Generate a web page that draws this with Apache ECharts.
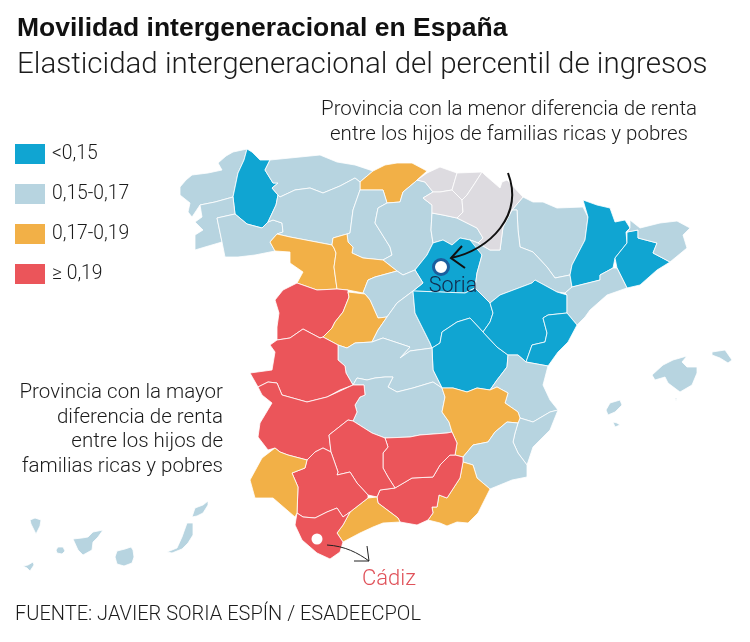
<!DOCTYPE html>
<html>
<head>
    <meta charset="utf-8">
    <title>Movilidad intergeneracional en España</title>
    <script src="https://cdn.jsdelivr.net/npm/echarts@6/dist/echarts.min.js"></script>
    <style>
        *{margin:0;padding:0}
        body{background:#fff}
        #main{width:750px;height:642px}
    </style>
</head>
<body>
    <div id="main"></div>
    <script type="text/javascript">
        // Clases de la leyenda (de arriba abajo)
        var classLabels = ['<0,15', '0,15-0,17', '0,17-0,19', '≥ 0,19'];
        var classColors = ['#10a5d2', '#b7d4e0', '#f2b047', '#eb555a'];

        // Provincia y su clase (indice en classLabels)
        var provinces = ['A Coruña', 'Lugo', 'Pontevedra', 'Ourense', 'Asturias', 'Cantabria', 'León', 'Palencia', 'Burgos', 'La Rioja',
            'Zamora', 'Valladolid', 'Soria', 'Segovia', 'Salamanca', 'Ávila', 'Madrid', 'Guadalajara', 'Cuenca', 'Toledo',
            'Ciudad Real', 'Cáceres', 'Badajoz', 'Huesca', 'Zaragoza', 'Teruel', 'Lleida', 'Barcelona', 'Girona', 'Tarragona',
            'Castellón', 'Valencia', 'Alicante', 'Albacete', 'Murcia', 'Almería', 'Granada', 'Jaén', 'Córdoba', 'Málaga',
            'Sevilla', 'Cádiz', 'Huelva', 'Baleares', 'Las Palmas', 'Santa Cruz de Tenerife'];
        var provinceClass = [1, 0, 1, 1, 1, 2, 1, 1, 1, 1,
            2, 2, 0, 1, 3, 2, 1, 0, 0, 1,
            1, 3, 3, 1, 1, 0, 0, 0, 1, 1,
            0, 1, 1, 2, 1, 2, 3, 3, 3, 2,
            3, 3, 2, 1, 1, 1];

        // Contornos de las provincias, trazados en pixeles de la imagen.
        // Bizkaia, Gipuzkoa, Alava y Navarra no tienen dato: quedan en gris
        var shapes = {
            'A Coruña': [[[247,149],[233,152],[226,156],[218,163],[222,170],[208,173],[192,175],[186,180],[180,187],[180,195],[190,203],[188,212],[192,217],[200,205],[215,202],[233,197],[238,173],[244,160]]],
            'Lugo': [[[247,149],[252,152],[260,160],[270,160],[265,170],[273,183],[278,183],[272,188],[278,195],[276,205],[268,222],[262,228],[247,224],[235,214],[233,197],[238,173],[244,160]]],
            'Pontevedra': [[[200,205],[215,202],[233,197],[235,214],[217,218],[222,242],[205,247],[195,250],[195,235],[203,230],[195,222],[202,217]]],
            'Ourense': [[[217,218],[235,214],[247,224],[262,228],[268,222],[273,220],[282,223],[283,232],[277,234],[270,242],[275,251],[255,255],[238,257],[225,257],[222,242]]],
            'Asturias': [[[270,160],[300,157],[320,155],[337,162],[355,165],[373,171],[360,182],[355,178],[340,186],[323,193],[310,188],[295,190],[280,197],[278,195],[272,188],[278,183],[273,183],[265,170]]],
            'Cantabria': [[[373,171],[385,165],[397,163],[412,163],[427,171],[417,180],[415,182],[403,192],[400,202],[387,203],[383,190],[360,190],[360,182]]],
            'León': [[[280,197],[295,190],[310,188],[323,193],[340,186],[355,178],[360,182],[360,190],[353,210],[350,233],[347,234],[333,238],[332,245],[290,237],[277,234],[283,232],[282,223],[273,220],[268,222],[276,205],[278,195]]],
            'Palencia': [[[360,190],[383,190],[387,203],[378,208],[375,223],[390,247],[392,255],[383,260],[363,258],[352,253],[353,247],[348,242],[347,234],[350,233],[353,210]]],
            'Burgos': [[[387,203],[400,202],[403,192],[415,182],[417,180],[425,182],[433,192],[423,198],[432,205],[432,213],[431,230],[433,243],[427,255],[415,270],[403,275],[397,271],[383,260],[392,255],[390,247],[375,223],[378,208]]],
            'La Rioja': [[[432,213],[443,215],[457,218],[477,228],[483,238],[478,243],[470,240],[460,238],[452,245],[443,240],[433,243],[431,230]]],
            'Zamora': [[[277,234],[290,237],[332,245],[334,248],[336,253],[334,267],[337,289],[317,290],[297,283],[303,272],[290,263],[290,252],[275,251],[270,242]]],
            'Valladolid': [[[333,238],[347,234],[348,242],[353,247],[352,253],[363,258],[383,260],[397,271],[375,277],[368,280],[363,293],[348,290],[337,289],[334,267],[336,253],[334,248],[332,245]]],
            'Soria': [[[415,270],[427,255],[433,243],[443,240],[452,245],[460,238],[470,240],[478,243],[482,255],[477,273],[475,288],[465,293],[440,292],[413,291],[423,283]]],
            'Segovia': [[[363,293],[368,280],[375,277],[397,271],[403,275],[415,270],[423,283],[413,291],[397,303],[387,317],[378,318],[370,300],[365,294]]],
            'Salamanca': [[[297,283],[317,290],[337,289],[348,290],[348,292],[349,297],[343,312],[335,322],[332,328],[323,337],[320,338],[303,329],[290,338],[277,340],[277,327],[279,313],[275,300],[283,290]]],
            'Ávila': [[[348,292],[365,294],[370,300],[378,318],[387,317],[378,330],[372,342],[355,343],[347,348],[338,345],[323,337],[332,328],[335,322],[343,312],[349,297]]],
            'Madrid': [[[387,317],[397,303],[413,291],[415,313],[430,343],[432,348],[410,351],[400,358],[410,347],[383,338],[372,342],[378,330]]],
            'Guadalajara': [[[413,291],[440,292],[465,293],[475,288],[490,303],[493,313],[490,322],[483,332],[470,318],[457,322],[442,332],[440,343],[432,348],[430,343],[415,313]]],
            'Cuenca': [[[432,348],[440,343],[442,332],[457,322],[470,318],[483,332],[497,347],[508,355],[507,367],[497,380],[490,390],[477,388],[467,392],[453,388],[442,388],[433,370]]],
            'Toledo': [[[338,345],[347,348],[355,343],[372,342],[383,338],[410,347],[400,358],[410,351],[432,348],[433,370],[442,388],[433,382],[413,388],[397,392],[388,387],[393,377],[385,377],[375,378],[367,380],[357,378],[353,385],[346,373],[345,366],[338,360]]],
            'Ciudad Real': [[[353,385],[357,378],[367,380],[375,378],[385,377],[393,377],[388,387],[397,392],[413,388],[433,382],[442,388],[445,397],[442,412],[449,422],[452,432],[447,433],[420,435],[410,437],[385,438],[372,433],[353,421],[357,412],[355,405],[360,397],[365,395],[364,385]]],
            'Cáceres': [[[270,345],[277,340],[290,338],[303,329],[320,338],[323,337],[338,345],[338,360],[345,366],[346,373],[353,385],[340,390],[327,397],[307,402],[282,395],[277,383],[268,382],[258,387],[250,373],[272,370],[275,352]]],
            'Badajoz': [[[258,387],[268,382],[277,383],[282,395],[307,402],[327,397],[353,385],[364,385],[365,395],[360,397],[355,405],[357,412],[353,421],[348,420],[329,435],[331,452],[323,448],[315,452],[307,460],[288,455],[280,452],[275,448],[268,450],[258,437],[260,423],[272,403],[262,395]]],
            'Huesca': [[[523,197],[533,202],[543,202],[557,208],[583,207],[588,217],[585,240],[572,265],[570,275],[555,278],[547,267],[533,252],[520,247],[518,230],[517,210],[512,210]]],
            'Zaragoza': [[[470,240],[478,243],[490,250],[500,250],[503,227],[512,210],[517,210],[518,230],[520,247],[533,252],[547,267],[555,278],[570,275],[572,287],[565,293],[557,292],[535,280],[532,283],[500,295],[490,303],[475,288],[477,273],[482,255]]],
            'Teruel': [[[490,303],[500,295],[532,283],[535,280],[557,292],[567,295],[567,313],[548,315],[543,318],[547,333],[545,342],[532,345],[526,362],[518,355],[508,355],[497,347],[483,332],[490,322],[493,313]]],
            'Lleida': [[[583,200],[597,205],[610,208],[615,222],[625,220],[630,228],[626,232],[627,243],[615,258],[613,268],[600,275],[600,280],[572,287],[570,275],[572,265],[585,240],[588,217]]],
            'Barcelona': [[[627,232],[638,230],[638,238],[657,243],[653,253],[670,262],[657,270],[640,285],[627,288],[617,268],[615,258],[627,243]]],
            'Girona': [[[630,220],[640,228],[660,223],[677,221],[690,228],[683,235],[687,248],[670,262],[653,253],[657,243],[638,238],[638,230],[627,232],[630,228]]],
            'Tarragona': [[[600,280],[600,275],[613,268],[617,268],[627,288],[607,295],[590,310],[585,317],[577,325],[567,313],[567,295],[565,293],[572,287]]],
            'Castellón': [[[548,315],[567,313],[577,325],[568,342],[558,352],[548,366],[526,362],[532,345],[545,342],[547,333],[543,318]]],
            'Valencia': [[[508,355],[518,355],[526,362],[548,366],[543,385],[550,400],[558,410],[550,412],[533,422],[520,418],[518,412],[505,403],[508,393],[497,387],[490,390],[497,380],[507,367]]],
            'Alicante': [[[518,423],[520,418],[533,422],[550,412],[558,410],[550,430],[533,447],[527,465],[518,453],[513,442],[515,433]]],
            'Albacete': [[[442,388],[453,388],[467,392],[477,388],[490,390],[497,387],[508,393],[505,403],[518,412],[520,418],[518,423],[507,422],[495,432],[488,442],[473,445],[463,457],[455,455],[457,443],[452,432],[449,422],[442,412],[445,397]]],
            'Murcia': [[[463,457],[473,445],[488,442],[495,432],[507,422],[518,423],[515,433],[513,442],[518,453],[527,465],[527,477],[512,480],[490,489],[477,478],[473,465],[463,462]]],
            'Almería': [[[463,462],[473,465],[477,478],[490,489],[478,513],[468,523],[457,522],[447,526],[440,523],[428,520],[433,513],[432,507],[437,507],[439,495],[447,498],[460,478]]],
            'Granada': [[[450,455],[455,455],[463,457],[463,462],[460,478],[447,498],[439,495],[437,507],[432,507],[433,513],[428,520],[417,525],[400,522],[398,518],[378,503],[377,497],[380,490],[395,488],[412,478],[433,477],[440,465]]],
            'Jaén': [[[385,438],[410,437],[420,435],[447,433],[452,432],[457,443],[455,455],[450,455],[440,465],[433,477],[412,478],[395,488],[388,477],[383,468],[383,453],[388,447]]],
            'Córdoba': [[[353,421],[372,433],[385,438],[388,447],[383,453],[383,468],[388,477],[395,488],[380,490],[377,497],[368,495],[357,483],[350,472],[337,475],[338,472],[331,452],[329,435],[348,420]]],
            'Málaga': [[[377,497],[378,503],[398,518],[400,522],[383,523],[373,527],[360,533],[343,542],[337,533],[343,525],[350,512],[368,498]]],
            'Sevilla': [[[331,452],[338,472],[337,475],[350,472],[357,483],[368,495],[368,498],[350,512],[343,517],[337,508],[327,512],[315,518],[303,517],[297,513],[298,487],[292,473],[305,468],[307,460],[315,452],[323,448]]],
            'Cádiz': [[[297,513],[303,517],[315,518],[327,512],[337,508],[343,517],[350,512],[343,525],[337,533],[343,542],[340,552],[330,559],[317,553],[302,540],[295,525]]],
            'Huelva': [[[275,448],[280,452],[288,455],[307,460],[305,468],[292,473],[298,487],[297,513],[295,517],[273,498],[255,498],[250,480],[262,458]]],
            'Baleares': [[[[652,375],[663,365],[673,360],[687,356],[682,362],[687,367],[697,367],[697,373],[692,385],[680,392],[668,383],[665,377],[655,380]]],
                [[[712,352],[725,350],[732,360],[728,363],[720,358],[712,355]]],
                [[[606,410],[610,403],[620,400],[622,405],[615,412],[608,415]]],
                [[[613,422],[617,423],[620,425],[615,427]]],
                [[[675,398],[677,398],[676,401]]]],
            'Las Palmas': [[[[115,557],[117,551],[125,549],[131,547],[133,550],[134,557],[132,563],[124,566],[117,564]]],
                [[[167,552],[177,548],[182,537],[187,523],[193,523],[193,535],[188,543],[182,549],[172,553]]],
                [[[192,517],[195,508],[203,505],[208,501],[208,505],[203,513],[197,516]]]],
            'Santa Cruz de Tenerife': [[[[73,539],[82,538],[88,537],[93,532],[103,530],[98,537],[93,542],[92,550],[83,555],[78,550]]],
                [[[56,550],[58,547],[63,547],[65,551],[62,554],[57,553]]],
                [[[30,520],[35,518],[41,520],[40,526],[36,534],[33,528],[31,524]]],
                [[[23,566],[28,565],[33,562],[34,565],[30,571],[27,568]]]],
            'Bizkaia': [[[417,180],[427,173],[440,167],[457,173],[452,190],[440,192],[433,192],[425,182]]],
            'Gipuzkoa': [[[457,173],[482,172],[475,183],[467,195],[462,200],[452,190]]],
            'Álava': [[[433,192],[440,192],[452,190],[462,200],[463,212],[457,218],[443,215],[432,213],[432,205],[423,198]]],
            'Navarra': [[[482,172],[485,175],[500,188],[502,182],[507,180],[523,197],[512,210],[503,227],[500,250],[490,250],[478,243],[483,238],[477,228],[457,218],[463,212],[462,200],[467,195],[475,183]]]
        };

        var multi = ['Baleares', 'Las Palmas', 'Santa Cruz de Tenerife'];
        var features = Object.keys(shapes).map(function (name) {
            return {
                type: 'Feature',
                properties: { name: name },
                geometry: { type: multi.indexOf(name) >= 0 ? 'MultiPolygon' : 'Polygon', coordinates: shapes[name] }
            };
        });
        echarts.registerMap('espana', { type: 'FeatureCollection', features: features });

        var myChart = echarts.init(document.getElementById('main'), null, { renderer: 'canvas' });

        var mapData = provinces.map(function (name, i) {
            return { name: name, value: provinceClass[i] };
        });

        var lightFont = 'Roboto';

        function note(lines, x, firstY, stepY, align) {
            return lines.map(function (line, i) {
                return {
                    type: 'text', x: x, y: firstY + i * stepY,
                    style: { text: line, font: '300 20.5px ' + lightFont, fill: '#1b1b1b', textAlign: align, textVerticalAlign: 'middle' }
                };
            });
        }

        var option = {
            animation: false,
            title: {
                left: 12, top: 10, itemGap: 9,
                text: 'Movilidad intergeneracional en España',
                subtext: 'Elasticidad intergeneracional del percentil de ingresos',
                textStyle: { fontFamily: 'Liberation Sans', fontWeight: 'bold', fontSize: 26.5, color: '#111' },
                subtextStyle: { fontFamily: lightFont, fontWeight: 300, fontSize: 29.5, color: '#1b1b1b' }
            },
            visualMap: {
                type: 'piecewise',
                left: 15, top: 144, padding: 0,
                orient: 'vertical',
                inverse: true,
                itemWidth: 30, itemHeight: 20, itemGap: 20, textGap: 7,
                itemSymbol: 'rect',
                selectedMode: false,
                textStyle: { fontFamily: lightFont, fontWeight: 300, fontSize: 19.3, color: '#1b1b1b' },
                pieces: classLabels.map(function (label, i) {
                    return { value: i, label: label, color: classColors[i] };
                })
            },
            series: [{
                type: 'map',
                map: 'espana',
                projection: { project: function (p) { return p; }, unproject: function (p) { return p; } },
                boundingCoords: [[0, 0], [750, 642]],
                left: 0, top: 0, width: 750, height: 642,
                roam: false,
                silent: true,
                label: { show: false },
                itemStyle: { areaColor: '#dddbe0', borderColor: '#ffffff', borderWidth: 0.8 },
                data: mapData
            }],
            graphic: note(['Provincia con la menor diferencia de renta', 'entre los hijos de familias ricas y pobres'], 509, 110, 25, 'center')
                .concat(note(['Provincia con la mayor', 'diferencia de renta', 'entre los hijos de', 'familias ricas y pobres'], 223, 393, 24.5, 'right'))
                .concat([
                    // Soria: punto, etiqueta y flecha
                    { type: 'bezierCurve', z: 20, shape: { x1: 508, y1: 173, cpx1: 524, cpy1: 215, cpx2: 490, cpy2: 250, x2: 451, y2: 258 }, style: { stroke: '#111', lineWidth: 2, fill: null } },
                    { type: 'polyline', z: 20, shape: { points: [[462, 246], [451, 258], [465, 268]] }, style: { stroke: '#111', lineWidth: 2, fill: null } },
                    { type: 'circle', z: 20, shape: { cx: 441, cy: 267, r: 7.5 }, style: { fill: '#fff', stroke: '#1b5e9e', lineWidth: 3 } },
                    { type: 'text', z: 20, x: 453, y: 287, style: { text: 'Soria', font: '300 21.5px ' + lightFont, fill: '#12294a', textAlign: 'center', textVerticalAlign: 'middle' } },
                    // Cadiz: punto, etiqueta y flecha
                    { type: 'circle', z: 20, shape: { cx: 317, cy: 539, r: 5.5 }, style: { fill: '#fff' } },
                    { type: 'bezierCurve', z: 20, shape: { x1: 327, y1: 545, cpx1: 345, cpy1: 546, cpx2: 358, cpy2: 553, x2: 369, y2: 561 }, style: { stroke: '#222', lineWidth: 1, fill: null } },
                    { type: 'polyline', z: 20, shape: { points: [[367, 546], [369, 561], [354, 561]] }, style: { stroke: '#222', lineWidth: 1, fill: null } },
                    { type: 'text', z: 20, x: 389, y: 579, style: { text: 'Cádiz', font: '300 22px ' + lightFont, fill: '#e0525a', textAlign: 'center', textVerticalAlign: 'middle' } },
                    // Fuente
                    { type: 'text', x: 15, y: 615, style: { text: 'FUENTE: JAVIER SORIA ESPÍN / ESADEECPOL', font: '300 20px ' + lightFont, fill: '#1b1b1b', textAlign: 'left', textVerticalAlign: 'middle' } }
                ])
        };

        myChart.setOption(option);
    </script>
</body>
</html>
